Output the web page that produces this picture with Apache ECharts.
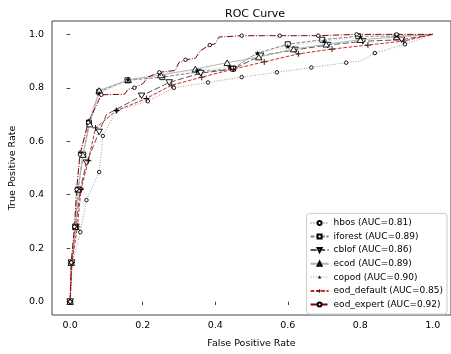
<!DOCTYPE html>
<html><head><meta charset="utf-8">
<script src="https://cdn.jsdelivr.net/npm/echarts@6/dist/echarts.min.js"></script>
<style>html,body{margin:0;padding:0;background:#fff}#c{width:451px;height:354px}</style>
</head><body><div id="c"></div>
<script>
const tickValues = [0, 0.2, 0.4, 0.6, 0.8, 1.0];
const seriesNames = ['hbos (AUC=0.81)','iforest (AUC=0.89)','cblof (AUC=0.86)','ecod (AUC=0.89)','copod (AUC=0.90)','eod_default (AUC=0.85)','eod_expert (AUC=0.92)'];

const hbos = [[0,0],[0.006,0.146],[0.028,0.26],[0.045,0.38],[0.08,0.485],[0.086,0.55],[0.09,0.62],[0.128,0.715],[0.214,0.75],[0.286,0.80],[0.38,0.82],[0.473,0.84],[0.57,0.858],[0.665,0.876],[0.761,0.894],[0.80,0.90],[0.84,0.93],[0.923,0.963],[1,1]];
const hbosMarks = [0,1,2,3,4,6,7,8,9,10,11,12,13,14,16,17];

const iforest = [[0,0],[0.003,0.146],[0.014,0.28],[0.022,0.42],[0.036,0.55],[0.052,0.67],[0.08,0.785],[0.158,0.828],[0.254,0.84],[0.355,0.86],[0.449,0.872],[0.516,0.93],[0.6,0.963],[0.695,0.98],[0.794,0.993],[0.9,0.993],[1,1]];
const iforestMarks = [0,1,2,3,4,5,6,7,8,9,10,12,13,14,15];

const cblof = [[0,0],[0.004,0.146],[0.016,0.28],[0.027,0.415],[0.045,0.52],[0.08,0.635],[0.1,0.7],[0.128,0.72],[0.197,0.77],[0.273,0.82],[0.36,0.855],[0.449,0.87],[0.525,0.92],[0.62,0.942],[0.71,0.96],[0.807,0.974],[0.914,0.98],[1,1]];
const cblofMarks = [0,1,2,3,4,5,8,9,10,11,12,13,14,15,16];

const ecod = [[0,0],[0.003,0.146],[0.016,0.28],[0.022,0.42],[0.035,0.55],[0.054,0.664],[0.08,0.79],[0.16,0.83],[0.25,0.848],[0.345,0.87],[0.433,0.894],[0.52,0.915],[0.616,0.945],[0.706,0.963],[0.80,0.98],[0.9,0.99],[1,1]];
const ecodMarks = [0,1,2,3,4,5,6,7,8,9,10,11,12,13,14,15];

const copod = [[0,0],[0.003,0.146],[0.012,0.28],[0.018,0.42],[0.027,0.558],[0.05,0.676],[0.08,0.78],[0.16,0.83],[0.246,0.854],[0.35,0.865],[0.44,0.878],[0.516,0.93],[0.6,0.955],[0.7,0.975],[0.8,0.99],[0.9,0.995],[1,1]];
const copodMarks = [0,1,2,3,4,5,6,7,8,9,10,11,12,13,14,15];

const eodDefault = [[0,0],[0.005,0.146],[0.02,0.28],[0.03,0.42],[0.05,0.527],[0.07,0.65],[0.128,0.715],[0.21,0.76],[0.28,0.81],[0.363,0.84],[0.45,0.87],[0.535,0.897],[0.629,0.927],[0.722,0.945],[0.821,0.96],[0.92,0.975],[1,1]];
const eodDefaultMarks = [0,1,2,3,4,5,6,7,8,9,10,11,12,13,14,15];

const eodExpert = [[0,0],[0.003,0.146],[0.012,0.28],[0.018,0.42],[0.027,0.55],[0.05,0.67],[0.086,0.774],[0.15,0.776],[0.16,0.795],[0.177,0.80],[0.2,0.815],[0.215,0.84],[0.246,0.858],[0.29,0.865],[0.3,0.895],[0.318,0.905],[0.345,0.91],[0.36,0.94],[0.385,0.96],[0.4,0.965],[0.41,0.99],[0.473,0.995],[0.578,0.995],[0.684,0.995],[0.79,1],[0.9,1],[1,1]];
const eodExpertMarks = [0,1,2,3,4,5,6,9,12,15,18,21,22,23,24,25];

const triDown = 'path://M0,0 L10,0 L5,9 Z';
const star = 'path://M5,0 L6.2,3.6 L10,3.6 L6.9,5.9 L8.1,9.5 L5,7.3 L1.9,9.5 L3.1,5.9 L0,3.6 L3.8,3.6 Z';
const plus = 'path://M4.3,0 L5.7,0 L5.7,4.3 L10,4.3 L10,5.7 L5.7,5.7 L5.7,10 L4.3,10 L4.3,5.7 L0,5.7 L0,4.3 L4.3,4.3 Z';

const defs = [
  {data:hbos, marks:hbosMarks, sym:'circle', size:3.5, fill:'#fff', color:'#a0a0a0', type:[1,1.6]},
  {data:iforest, marks:iforestMarks, sym:'rect', size:5, fill:'#fff', color:'#808080', type:[3.7,1.6]},
  {data:cblof, marks:cblofMarks, sym:triDown, size:[6.5,5.5], fill:'#fff', color:'#555555', type:[6,2.5]},
  {data:ecod, marks:ecodMarks, sym:'triangle', size:[6.5,5.5], fill:'#fff', color:'#b4b4b4', type:'solid'},
  {data:copod, marks:copodMarks, sym:star, size:5.5, fill:'#000', color:'#c8c8c8', type:[1,1.6]},
  {data:eodDefault, marks:eodDefaultMarks, sym:plus, size:6, fill:'#000', color:'#d62728', type:[3.7,1.6]},
  {data:eodExpert, marks:eodExpertMarks, sym:'circle', size:3.5, fill:'#fff', color:'#8b0000', type:[6.4,1.6,1,1.6]}
];

const series = defs.map((d, i) => ({
  name: seriesNames[i],
  type: 'line',
  symbol: d.sym,
  symbolSize: d.size,
  showSymbol: true,
  showAllSymbol: true,
  animation: false,
  z: 2 + i,
  lineStyle: {color: d.color, width: 1, type: d.type},
  itemStyle: {color: d.fill, borderColor: '#000', borderWidth: d.fill === '#000' ? 0 : 0.9},
  data: d.data.map((p, j) => ({value: p, symbol: d.marks.includes(j) ? d.sym : 'none'}))
}));

const chart = echarts.init(document.getElementById('c'), null, {renderer: 'canvas'});
chart.setOption({
  animation: false,
  backgroundColor: '#fff',
  textStyle: {fontFamily: 'DejaVu Sans'},
  title: {text: 'ROC Curve', left: 250, top: 4, textAlign: 'center',
    textStyle: {fontSize: 11, fontWeight: 'normal', color: '#000', fontFamily: 'DejaVu Sans'}},
  grid: {left: 44, top: 21, width: 412, height: 300, show: true, borderColor: '#444', borderWidth: 1, backgroundColor: 'transparent'},
  xAxis: {type: 'value', min: -0.05, max: 1.05,
    name: 'False Positive Rate', nameLocation: 'middle', nameGap: 24,
    nameTextStyle: {fontSize: 9.5, color: '#000', fontFamily: 'DejaVu Sans'},
    axisLine: {show: false}, splitLine: {show: false},
    axisTick: {show: true, length: 3.5, customValues: tickValues, lineStyle: {color: '#444'}},
    axisLabel: {customValues: tickValues, fontSize: 9.5, color: '#000', margin: 6, formatter: v => v.toFixed(1)}},
  yAxis: {type: 'value', min: -0.05, max: 1.05,
    name: 'True Positive Rate', nameLocation: 'middle', nameGap: 27,
    nameTextStyle: {fontSize: 9.5, color: '#000', fontFamily: 'DejaVu Sans'},
    axisLine: {show: false}, splitLine: {show: false},
    axisTick: {show: true, length: 3.5, customValues: tickValues, lineStyle: {color: '#444'}},
    axisLabel: {customValues: tickValues, fontSize: 9.5, color: '#000', margin: 8, formatter: v => v.toFixed(1)}},
  legend: {
    orient: 'vertical', right: 4, bottom: 40,
    itemWidth: 18, itemHeight: 5, itemGap: 2.6,
    padding: [4, 4, 4, 3],
    backgroundColor: 'rgba(255,255,255,0.8)', borderColor: '#ccc', borderWidth: 1, borderRadius: 3,
    textStyle: {fontSize: 9, color: '#000', fontFamily: 'DejaVu Sans', lineHeight: 11},
    data: seriesNames
  },
  series: series
});
</script>
</body></html>
